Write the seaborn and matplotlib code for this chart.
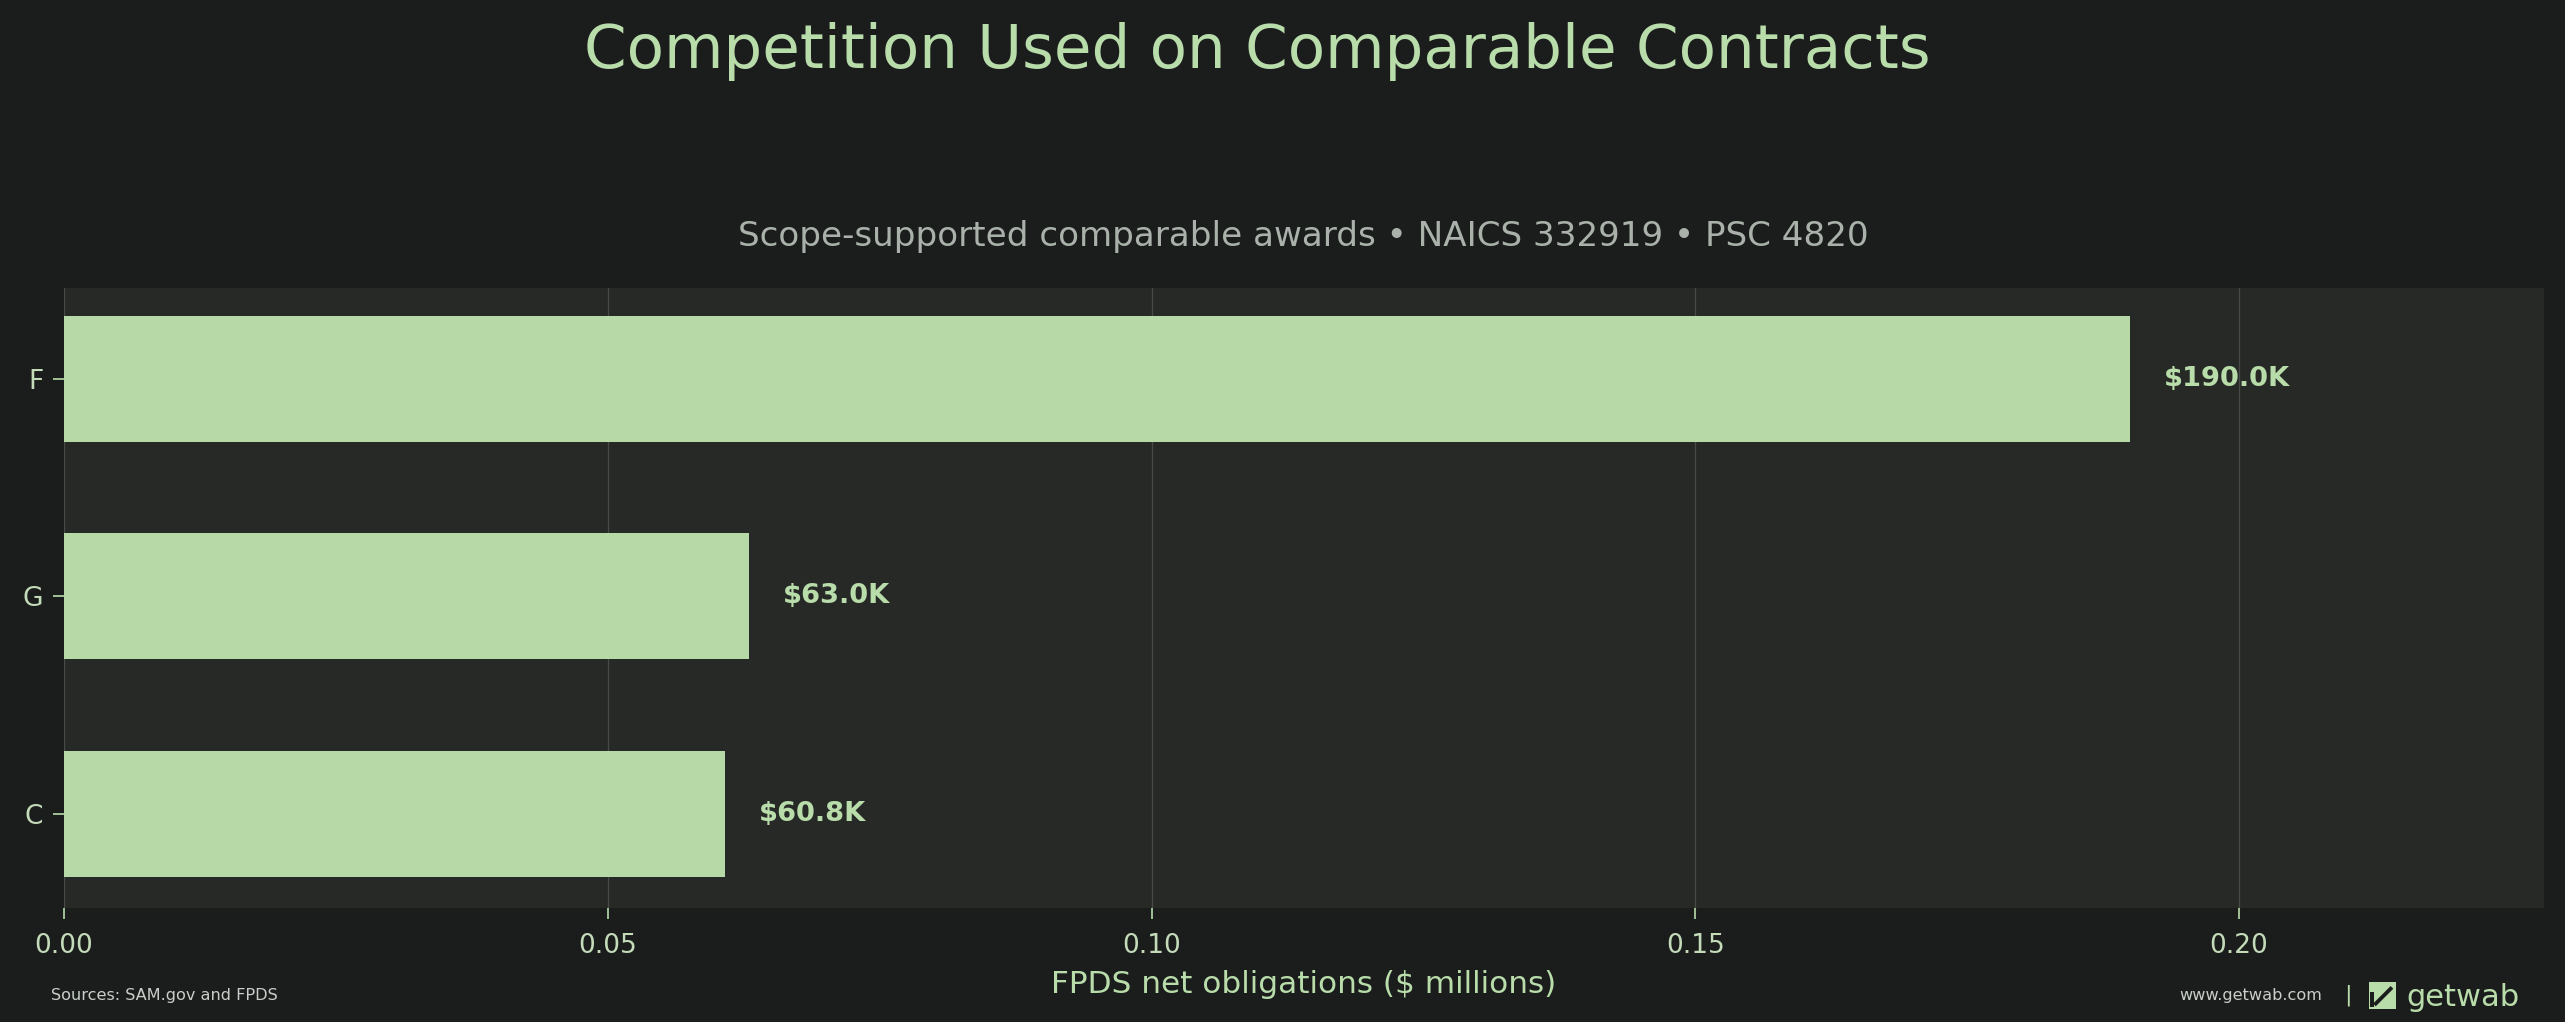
import matplotlib
matplotlib.use("Agg")
import matplotlib.pyplot as plt
import seaborn as sns
import pandas as pd
from matplotlib.patches import Rectangle, Polygon

categories = ["F", "G", "C"]
obligations_musd = [0.190, 0.063, 0.0608]
bar_labels = ["$190.0K", "$63.0K", "$60.8K"]
x_ticks = [0.00, 0.05, 0.10, 0.15, 0.20]

title = "Competition Used on Comparable Contracts"
subtitle = "Scope-supported comparable awards \u2022 NAICS 332919 \u2022 PSC 4820"
xlabel = "FPDS net obligations ($ millions)"
source_text = "Sources: SAM.gov and FPDS"
site_text = "www.getwab.com"
brand_text = "getwab"

FIG_BG = "#1b1d1c"
AX_BG = "#272927"
BAR = "#b6d9a7"
GREEN_TXT = "#b8dcaa"
TICK_TXT = "#c4dbb9"
SUB_TXT = "#a9b1aa"
GRID = "#474a47"

sns.set_theme(style="dark")
plt.rcParams["font.family"] = ["DejaVu Sans"]

df = pd.DataFrame({"cat": categories, "val": obligations_musd})

fig = plt.figure(figsize=(12.825, 5.11), dpi=200, facecolor=FIG_BG)
ax = fig.add_axes([0.02495, 0.1115, 0.9667, 0.6067])
ax.set_facecolor(AX_BG)

sns.barplot(data=df, x="val", y="cat", orient="h", color=BAR, width=0.58,
            saturation=1, ax=ax, zorder=3, edgecolor="none", linewidth=0)

ax.set_xlim(0, max(obligations_musd) * 1.2)
ax.set_ylim(len(categories) - 1 + 0.435, -0.42)
ax.set_xticks(x_ticks)
ax.set_xticklabels([f"{t:.2f}" for t in x_ticks])

ax.grid(axis="x", color=GRID, linewidth=0.45, zorder=0)
ax.grid(axis="y", visible=False)
ax.set_axisbelow(True)
for s in ax.spines.values():
    s.set_visible(False)

ax.tick_params(axis="both", colors=GREEN_TXT, labelcolor=TICK_TXT,
               labelsize=9.5, length=4, width=0.6, direction="out",
               bottom=True, left=True)
ax.tick_params(axis="x", pad=5)
ax.set_ylabel("")
ax.set_xlabel(xlabel, color=GREEN_TXT, fontsize=11.2, labelpad=4)

ax.bar_label(ax.containers[0], labels=bar_labels, padding=12,
             color=GREEN_TXT, fontsize=9.8, fontweight="bold")

ax.set_title(subtitle, color=SUB_TXT, fontsize=12.3, pad=15)
fig.text(0.49, 0.950, title, ha="center", va="center", color=GREEN_TXT,
         fontsize=22)

fig.text(0.02, 0.026, source_text, ha="left", va="center", color="#c9cec9",
         fontsize=5.8)
fig.text(0.9053, 0.026, site_text, ha="right", va="center", color="#c9cec9",
         fontsize=5.8)
fig.text(0.9152, 0.026, "|", ha="center", va="center", color=GREEN_TXT,
         fontsize=8)

# logo icon
lx0, ly0 = 2369 / 2565, 1 - 1009 / 1022
lw, lh = 27 / 2565, 27 / 1022
fig.patches.append(Rectangle((lx0, ly0), lw, lh, transform=fig.transFigure,
                             facecolor=GREEN_TXT, edgecolor="none"))
fig.patches.append(Polygon([(lx0 + lw * 0.15, ly0 + lh * 0.2),
                            (lx0 + lw * 0.8, ly0 + lh * 0.85),
                            (lx0 + lw * 0.9, ly0 + lh * 0.75),
                            (lx0 + lw * 0.25, ly0 + lh * 0.1)],
                           closed=True, transform=fig.transFigure,
                           facecolor=FIG_BG, edgecolor="none"))
fig.patches.append(Rectangle((lx0 + lw * 0.05, ly0 + lh * 0.08), lw * 0.12, lh * 0.55,
                             transform=fig.transFigure, facecolor=FIG_BG,
                             edgecolor="none"))
fig.text(2406 / 2565, 0.024, brand_text, ha="left", va="center",
         color=GREEN_TXT, fontsize=11)

fig.savefig("out.png", dpi=200, facecolor=FIG_BG)
